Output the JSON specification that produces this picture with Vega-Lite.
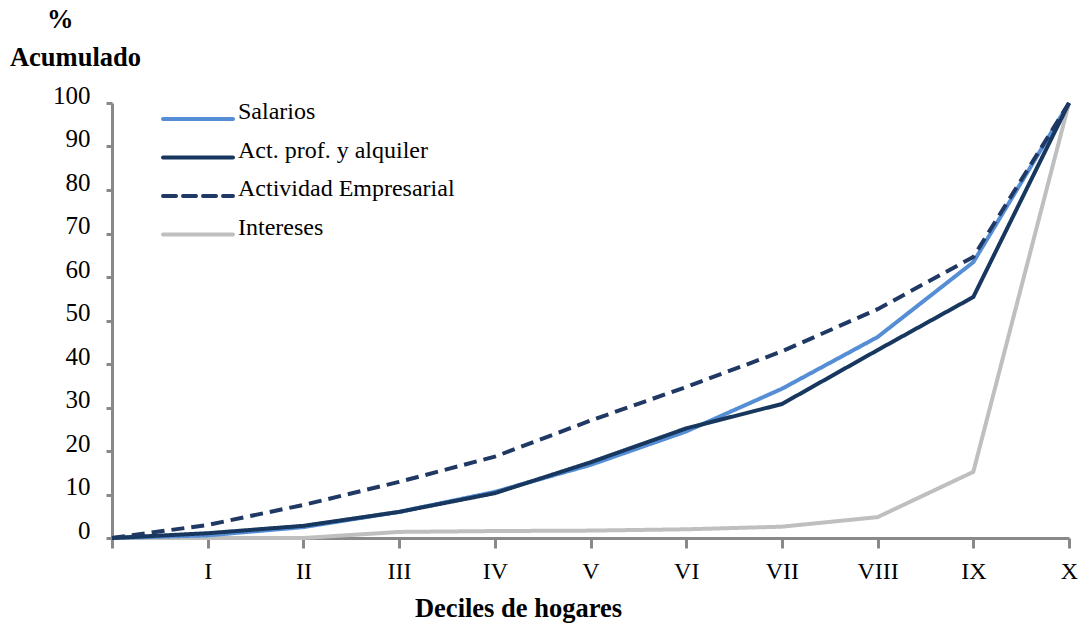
{
  "$schema": "https://vega.github.io/schema/vega-lite/v6.json",
  "width": 957,
  "height": 435,
  "autosize": {"type": "none"},
  "padding": {"left": 112, "top": 103, "right": 12, "bottom": 96},
  "background": "white",
  "title": {
    "text": "%",
    "orient": "top",
    "anchor": "start",
    "frame": "group",
    "font": "Liberation Serif",
    "fontSize": 26.5,
    "fontWeight": "bold",
    "color": "#000000",
    "baseline": "alphabetic",
    "dx": -65,
    "offset": 0,
    "dy": 10
  },
  "config": {
    "view": {"stroke": null},
    "font": "Liberation Serif"
  },
  "data": {
    "values": [
      {"serie": "Intereses", "d": 0, "v": 0},
      {"serie": "Intereses", "d": 1, "v": 0},
      {"serie": "Intereses", "d": 2, "v": 0},
      {"serie": "Intereses", "d": 3, "v": 1.4},
      {"serie": "Intereses", "d": 4, "v": 1.6},
      {"serie": "Intereses", "d": 5, "v": 1.7},
      {"serie": "Intereses", "d": 6, "v": 2},
      {"serie": "Intereses", "d": 7, "v": 2.6},
      {"serie": "Intereses", "d": 8, "v": 4.8},
      {"serie": "Intereses", "d": 9, "v": 15.2},
      {"serie": "Intereses", "d": 10, "v": 100},
      {"serie": "Salarios", "d": 0, "v": 0},
      {"serie": "Salarios", "d": 1, "v": 0.6},
      {"serie": "Salarios", "d": 2, "v": 2.5},
      {"serie": "Salarios", "d": 3, "v": 6},
      {"serie": "Salarios", "d": 4, "v": 10.6},
      {"serie": "Salarios", "d": 5, "v": 16.8},
      {"serie": "Salarios", "d": 6, "v": 24.5},
      {"serie": "Salarios", "d": 7, "v": 34.3},
      {"serie": "Salarios", "d": 8, "v": 46.2},
      {"serie": "Salarios", "d": 9, "v": 63.4},
      {"serie": "Salarios", "d": 10, "v": 100},
      {"serie": "Act. prof. y alquiler", "d": 0, "v": 0},
      {"serie": "Act. prof. y alquiler", "d": 1, "v": 1.1},
      {"serie": "Act. prof. y alquiler", "d": 2, "v": 2.8},
      {"serie": "Act. prof. y alquiler", "d": 3, "v": 6},
      {"serie": "Act. prof. y alquiler", "d": 4, "v": 10.3},
      {"serie": "Act. prof. y alquiler", "d": 5, "v": 17.4},
      {"serie": "Act. prof. y alquiler", "d": 6, "v": 25.2},
      {"serie": "Act. prof. y alquiler", "d": 7, "v": 30.8},
      {"serie": "Act. prof. y alquiler", "d": 8, "v": 43.2},
      {"serie": "Act. prof. y alquiler", "d": 9, "v": 55.4},
      {"serie": "Act. prof. y alquiler", "d": 10, "v": 100},
      {"serie": "Actividad Empresarial", "d": 0, "v": 0},
      {"serie": "Actividad Empresarial", "d": 1, "v": 3},
      {"serie": "Actividad Empresarial", "d": 2, "v": 7.6},
      {"serie": "Actividad Empresarial", "d": 3, "v": 12.9},
      {"serie": "Actividad Empresarial", "d": 4, "v": 18.7},
      {"serie": "Actividad Empresarial", "d": 5, "v": 27},
      {"serie": "Actividad Empresarial", "d": 6, "v": 34.7},
      {"serie": "Actividad Empresarial", "d": 7, "v": 42.9},
      {"serie": "Actividad Empresarial", "d": 8, "v": 52.6},
      {"serie": "Actividad Empresarial", "d": 9, "v": 64.6},
      {"serie": "Actividad Empresarial", "d": 10, "v": 100}
    ]
  },
  "mark": {"type": "line", "strokeWidth": 4, "strokeCap": "butt", "strokeJoin": "miter"},
  "encoding": {
    "x": {
      "field": "d",
      "type": "quantitative",
      "scale": {"domain": [0, 10], "nice": false, "zero": false},
      "axis": {
        "values": [0, 1, 2, 3, 4, 5, 6, 7, 8, 9, 10],
        "labelExpr": "['', 'I', 'II', 'III', 'IV', 'V', 'VI', 'VII', 'VIII', 'IX', 'X'][datum.value]",
        "grid": false,
        "domainColor": "#898989",
        "domainWidth": 3,
        "tickColor": "#898989",
        "tickWidth": 3,
        "tickSize": 10,
        "labelPadding": 11,
        "labelFont": "Liberation Serif",
        "labelFontSize": 24,
        "labelColor": "#000000",
        "labelFlush": false,
        "labelOverlap": false,
        "title": "Deciles de hogares",
        "titleFont": "Liberation Serif",
        "titleFontSize": 26.5,
        "titleFontWeight": "bold",
        "titleColor": "#000000",
        "titleAnchor": null,
        "titleAlign": "center",
        "titleX": 406,
        "titleY": 78,
        "titleBaseline": "alphabetic"
      }
    },
    "y": {
      "field": "v",
      "type": "quantitative",
      "scale": {"domain": [0, 100], "nice": false},
      "axis": {
        "values": [0, 10, 20, 30, 40, 50, 60, 70, 80, 90, 100],
        "grid": false,
        "domainColor": "#898989",
        "domainWidth": 3,
        "tickColor": "#898989",
        "tickWidth": 3,
        "tickSize": 6,
        "labelPadding": 16,
        "labelBaseline": "alphabetic",
        "labelFont": "Liberation Serif",
        "labelFontSize": 25,
        "labelColor": "#000000",
        "labelFlush": false,
        "title": "Acumulado",
        "titleFont": "Liberation Serif",
        "titleFontSize": 26.5,
        "titleFontWeight": "bold",
        "titleColor": "#000000",
        "titleAngle": 0,
        "titleAlign": "center",
        "titleBaseline": "alphabetic",
        "titleX": -37,
        "titleY": -38
      }
    },
    "color": {
      "field": "serie",
      "type": "nominal",
      "scale": {
        "domain": ["Salarios", "Act. prof. y alquiler", "Actividad Empresarial", "Intereses"],
        "range": ["#558ED5", "#17375E", "#1F3864", "#BFBFBF"]
      },
      "legend": {
        "title": null,
        "orient": "none",
        "legendX": 74,
        "legendY": 4,
        "symbolType": "M-5,0H5",
        "symbolSize": 196,
        "symbolStrokeWidth": 4,
        "labelFont": "Liberation Serif",
        "labelFontSize": 24,
        "labelColor": "#000000",
        "labelBaseline": "alphabetic",
        "labelOffset": 28,
        "rowPadding": 11.5,
        "labelLimit": 400,
        "padding": 0,
        "encode": {"symbols": {"update": {"strokeCap": {"value": "round"}}}}
      }
    },
    "strokeDash": {
      "field": "serie",
      "type": "nominal",
      "scale": {
        "domain": ["Salarios", "Act. prof. y alquiler", "Actividad Empresarial", "Intereses"],
        "range": [[1, 0], [1, 0], [13, 7], [1, 0]]
      },
      "legend": {
        "title": null,
        "orient": "none",
        "legendX": 74,
        "legendY": 4,
        "symbolType": "M-5,0H5",
        "symbolSize": 196,
        "symbolStrokeWidth": 4,
        "labelFont": "Liberation Serif",
        "labelFontSize": 24,
        "labelColor": "#000000",
        "labelBaseline": "alphabetic",
        "labelOffset": 28,
        "rowPadding": 11.5,
        "labelLimit": 400,
        "padding": 0,
        "encode": {"symbols": {"update": {"strokeCap": {"value": "round"}}}}
      }
    },
    "order": {"field": "d"}
  }
}
